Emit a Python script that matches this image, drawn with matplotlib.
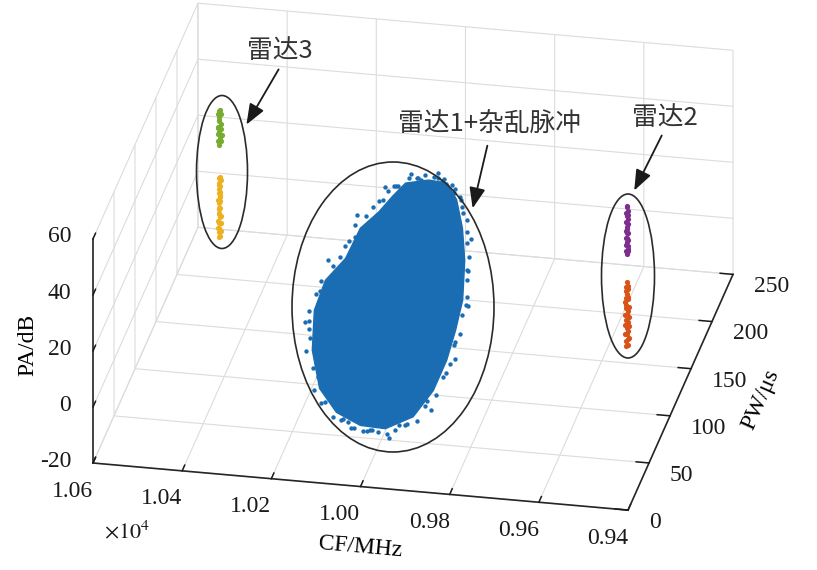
import matplotlib
matplotlib.use('Agg')
import matplotlib.pyplot as plt
from matplotlib.patches import Ellipse, FancyArrowPatch
from matplotlib.ticker import FuncFormatter
from mpl_toolkits.mplot3d import proj3d
from mpl_toolkits.mplot3d.art3d import Poly3DCollection

# ---------------- data (CF in MHz, PW in us, PA in dB) ----------------
cf_ticks = [9400, 9600, 9800, 10000, 10200, 10400, 10600]
pw_ticks = [0, 50, 100, 150, 200, 250]
pa_ticks = [-20, 0, 20, 40, 60]

# dense core of radar 1 + clutter cloud (outline of the dense region)
blob_cf = [10063, 10013, 9969, 9939, 9910, 9887, 9869, 9868, 9871, 9884, 9914,
           9970, 10028, 10089, 10140, 10178, 10196, 10188, 10155, 10139, 10107, 10085]
blob_pw = [173, 175, 173, 163, 146, 127, 103, 85, 67, 49, 33,
           26, 28, 36, 50, 73, 97, 115, 128, 146, 156, 165]
blob_pa = [29.4, 30.5, 30.7, 28.5, 24.5, 19.8, 13.9, 9.2, 4.5, -0.4, -4.8,
           -7.5, -7.8, -6.7, -3.6, 1.8, 7.7, 12.5, 16.4, 21.3, 24.2, 27.0]

# scattered pulses at the fringe of the cloud
edge_cf = [10055, 10075, 10020, 10000, 10035, 9975, 9955, 9930, 9945,
           9898, 9903, 9876, 9880, 9858, 9862, 9858, 9863, 9862, 9866,
           9876, 9893, 9905, 9925, 9965, 9985, 9950, 10020, 10040, 10005,
           10095, 10075, 10152, 10148, 10190, 10186, 10207, 10203, 10198, 10194,
           10166, 10160, 10150, 10145, 10118, 10110, 10093, 10083,
           10038, 10028, 9991, 9980, 9947, 9916, 9921, 9890, 9870, 9873,
           9860, 9862, 9870, 9894, 9942, 9930, 9999, 10012, 10059, 10070,
           10121, 10166, 10195, 10200, 10177, 10154, 10129, 10102, 10079,
           10050, 9990, 9925, 9885, 9852, 9855, 9880, 9960, 10050, 10130,
           10210, 10190, 10150, 10100]
edge_pw = [173, 170, 175, 175, 174, 173, 170, 163, 165,
           146, 150, 127, 125, 103, 105, 85, 80, 67, 62,
           49, 45, 33, 31, 26, 26, 28, 28, 28, 27,
           36, 34, 50, 55, 73, 78, 97, 93, 115, 110,
           128, 134, 146, 140, 156, 160, 165, 168,
           174, 174, 174, 173, 168, 155, 158, 137, 115, 120,
           94, 76, 58, 41, 30, 31, 27, 27, 32, 33,
           43, 62, 85, 106, 122, 137, 151, 161, 169,
           173, 175, 160, 140, 100, 70, 40, 25, 30, 45,
           90, 125, 150, 165]
edge_pa = [31.0, 29.0, 32.0, 31.6, 31.2, 32.0, 31.0, 29.5, 30.0,
           23.0, 26.0, 21.0, 17.0, 15.0, 11.5, 8.0, 6.5, 3.0, 1.5,
           -2.0, -3.0, -6.5, -7.0, -9.5, -9.0, -8.5, -9.8, -9.2, -9.0,
           -8.5, -8.8, -4.5, -1.5, 1.0, 4.0, 7.0, 5.0, 12.0, 10.0,
           16.5, 18.5, 22.0, 20.0, 25.5, 26.5, 28.5, 29.5,
           31.1, 30.6, 31.8, 31.2, 30.4, 26.5, 27.8, 22.2, 16.9, 18.5,
           11.6, 6.9, 1.5, -3.4, -7.3, -7.6, -8.8, -9.3, -8.4, -7.9,
           -5.9, -0.9, 4.8, 10.1, 15.3, 19.3, 23.8, 26.6, 29.2,
           32.5, 33.0, 29.5, 23.0, 13.0, 4.0, -4.5, -10.5, -10.0, -7.0,
           5.5, 16.0, 24.5, 30.0]

# radar 3 (two PA groups)
g_cf = [10501, 10498, 10502, 10499, 10497, 10502, 10500, 10498, 10503, 10501,
        10497, 10502, 10499, 10501, 10498, 10502, 10500, 10498]
g_pw = [195, 196, 194, 195, 197, 194, 195, 196, 195, 193,
        195, 196, 194, 195, 196, 194, 195, 195]
g_pa = [29.1, 30.4, 30.9, 31.8, 32.2, 33.5, 33.9, 34.6, 35.3, 36.4,
        36.7, 37.9, 38.3, 39.2, 40.1, 40.6, 41.3, 41.9]

o_cf = [10502, 10498, 10501, 10497, 10503, 10499, 10501, 10497, 10503, 10500,
        10497, 10502, 10499, 10503, 10500, 10497, 10502, 10499, 10503, 10498,
        10500, 10502, 10497, 10501, 10499, 10502, 10500, 10498, 10501, 10499]
o_pw = [195, 194, 196, 195, 195, 193, 196, 195, 194, 196,
        195, 195, 194, 196, 195, 193, 195, 196, 194, 195,
        196, 195, 194, 195, 196, 195, 194, 196, 195, 195]
o_pa = [-3.6, -2.9, -2.0, -1.4, -0.5, 0.3, 1.0, 1.6, 2.5, 3.1,
        4.0, 4.7, 5.3, 6.2, 6.9, 7.5, 8.4, 9.0, 9.9, 10.6,
        11.2, 12.1, 12.8, 13.6, 14.3, 15.1, 15.9, 16.6, 17.4, 17.9]

# radar 2 (two PA groups)
p_cf = [9551, 9548, 9552, 9549, 9547, 9552, 9550, 9548, 9553, 9549,
        9551, 9547, 9552, 9549, 9551, 9548, 9550, 9552, 9548, 9551,
        9548, 9552, 9549, 9551, 9550]
p_pw = [157, 158, 156, 157, 157, 156, 158, 157, 157, 156,
        158, 157, 157, 156, 157, 158, 157, 156, 157, 158,
        157, 156, 157, 158, 157]
p_pa = [16.5, 17.2, 17.9, 18.4, 19.3, 19.9, 20.6, 21.4, 22.0, 22.7,
        23.5, 24.1, 24.8, 25.6, 26.2, 26.9, 27.7, 28.3, 29.1, 29.8,
        30.5, 31.3, 32.0, 32.8, 33.6]

r_cf = [9552, 9547, 9554, 9549, 9546, 9552, 9554, 9548, 9550, 9546,
        9553, 9548, 9552, 9546, 9554, 9550, 9547, 9553, 9546, 9551,
        9554, 9548, 9552, 9547, 9550, 9553, 9549, 9552, 9547, 9551]
r_pw = [157, 156, 158, 157, 157, 158, 156, 157, 157, 158,
        156, 157, 157, 158, 157, 156, 157, 158, 157, 156,
        157, 158, 157, 156, 157, 157, 158, 157, 156, 157]
r_pa = [-16.4, -15.6, -14.9, -14.0, -13.3, -12.5, -11.8, -11.0, -10.1, -9.4,
        -8.6, -7.9, -7.1, -6.2, -5.5, -4.7, -3.9, -3.2, -2.4, -1.5,
        -0.8, 0.0, 0.8, 1.5, 2.3, 3.1, 3.8, 4.6, 5.4, 6.3]

labels = ['雷达3', '雷达1+杂乱脉冲', '雷达2']

# ---------------- style ----------------
plt.rcParams['font.family'] = ['Liberation Serif', 'DejaVu Serif']
plt.rcParams['mathtext.fontset'] = 'stix'
plt.rcParams['axes.unicode_minus'] = False
plt.rcParams['grid.color'] = '#dcdcdc'
plt.rcParams['grid.linewidth'] = 0.8
plt.rcParams['xtick.major.width'] = 1.1
plt.rcParams['ytick.major.width'] = 1.1

BLUE = '#1b6db3'
GREEN = '#77ac30'
ORANGE = '#edb120'
PURPLE = '#7e2f8e'
RED = '#d95319'
INK = '#1a1a1a'
CJK = ['Noto Sans CJK SC', 'DejaVu Sans']

W, H = 817, 570
fig = plt.figure(figsize=(W / 100, H / 100), dpi=100)
ax = fig.add_axes([0.1, 0.1, 0.8, 0.8], projection='3d', proj_type='ortho')
ax.set_box_aspect((545, 540, 250))
ax.view_init(elev=26.4, azim=-78.8)
ax.computed_zorder = False

ax.set_xlim(10600, 9400)
ax.set_ylim(0, 250)
ax.set_zlim(-20, 60)
ax.set_xticks(cf_ticks)
ax.set_yticks(pw_ticks)
ax.set_zticks(pa_ticks)
ax.xaxis.set_major_formatter(FuncFormatter(lambda v, p: f'{v / 1e4:.2f}'))
ax.zaxis.set_ticks_position('lower')
ax.zaxis.set_label_position('lower')
# MATLAB-like label offsets: CF labels straight below, PA/PW labels sideways
ax.xaxis._axmask = lambda: [False, False, True]
ax.yaxis._axmask = lambda: [True, False, False]
ax.zaxis._axmask = lambda: [True, False, False]

for a in (ax.xaxis, ax.yaxis, ax.zaxis):
    a.set_pane_color((1, 1, 1, 0))
    a.pane.set_edgecolor((1, 1, 1, 0))
    a.line.set_color('#262626')
    a.line.set_linewidth(1.2)
    a._axinfo['tick']['inward_factor'] = 0.0
    a._axinfo['tick']['outward_factor'] = 0.3
    a._axinfo['tick']['color'] = '#262626'
    a._axinfo['grid']['color'] = '#dcdcdc'
    a._axinfo['grid']['linewidth'] = 0.8
for axname in ('x', 'y', 'z'):
    ax.tick_params(axis=axname, labelsize=17, colors=INK)
ax.tick_params(axis='x', pad=15)
ax.tick_params(axis='z', pad=4)

ax.set_xlabel('CF/MHz', fontsize=17, labelpad=59)
ax.set_ylabel('PW/μs', fontsize=17, labelpad=23)
ax.set_zlabel('PA/dB', fontsize=17, labelpad=15)

core = Poly3DCollection([list(zip(blob_cf, blob_pw, blob_pa))],
                        facecolor=BLUE, edgecolor=BLUE, linewidths=1.0, zorder=2)
ax.add_collection3d(core)
ax.scatter(edge_cf, edge_pw, edge_pa, s=10, c=BLUE, linewidths=0, depthshade=False, zorder=3)
ax.scatter(g_cf, g_pw, g_pa, s=14, c=GREEN, linewidths=0, depthshade=False, zorder=3)
ax.scatter(o_cf, o_pw, o_pa, s=14, c=ORANGE, linewidths=0, depthshade=False, zorder=3)
ax.scatter(p_cf, p_pw, p_pa, s=14, c=PURPLE, linewidths=0, depthshade=False, zorder=3)
ax.scatter(r_cf, r_pw, r_pa, s=14, c=RED, linewidths=0, depthshade=False, zorder=3)

# ---------------- place the box: front-left corner and right-back corner ----------------
fig.canvas.draw()


def disp(x, y, z):
    X, Y, _ = proj3d.proj_transform(x, y, z, ax.get_proj())
    return ax.transData.transform((X, Y))


pA = disp(10600, 0, -20)
pB = disp(9400, 250, -20)
tA = (93.0, H - 463.0)
tB = (733.0, H - 275.0)
bb = ax.get_position().transformed(fig.transFigure)
cx, cy = (bb.x0 + bb.x1) / 2, (bb.y0 + bb.y1) / 2
side = bb.width
k = (tB[0] - tA[0]) / (pB[0] - pA[0])
ncx = tA[0] - k * (pA[0] - cx)
ncy = tA[1] - k * (pA[1] - cy)
ns = side * k
ax.set_position([(ncx - ns / 2) / W, (ncy - ns / 2) / H, ns / W, ns / H])

for t in ax.xaxis.get_major_ticks():
    t.label1.set_horizontalalignment('right')
for t in ax.yaxis.get_major_ticks():
    t.label1.set_horizontalalignment('left')
    t.label1.set_verticalalignment('top')
for t in ax.zaxis.get_major_ticks():
    t.label1.set_horizontalalignment('right')
    t.label1.set_verticalalignment('center')


# ---------------- annotations (figure pixel layout, y from top) ----------------
def fxy(x, y):
    return (x / W, 1 - y / H)


for (ex, ey, ew, eh) in [(222, 172, 51, 153), (393, 307, 202, 290), (628, 276, 53, 164)]:
    e = Ellipse(fxy(ex, ey), ew / W, eh / H, transform=fig.transFigure,
                fill=False, edgecolor='#2b2b2b', linewidth=1.2)
    fig.add_artist(e)

for (x0, y0, x1, y1) in [(280, 67, 245, 127), (488, 143, 472, 211), (663, 133, 633, 193)]:
    arr = FancyArrowPatch(fxy(x0, y0), fxy(x1, y1), transform=fig.transFigure,
                          arrowstyle='-|>,head_length=0.9,head_width=0.35',
                          mutation_scale=14, color=INK, linewidth=1.3)
    fig.add_artist(arr)

for (tx, ty), s in zip([(280, 51), (490, 124), (665, 118)], labels):
    fig.text(*fxy(tx, ty), s, family=CJK, fontsize=18.5, color='#333333',
             ha='center', va='center')

fig.text(*fxy(127, 532), r'$\times10^4$', fontsize=16, ha='center', va='center', color=INK)

fig.savefig('out.png', dpi=100)
